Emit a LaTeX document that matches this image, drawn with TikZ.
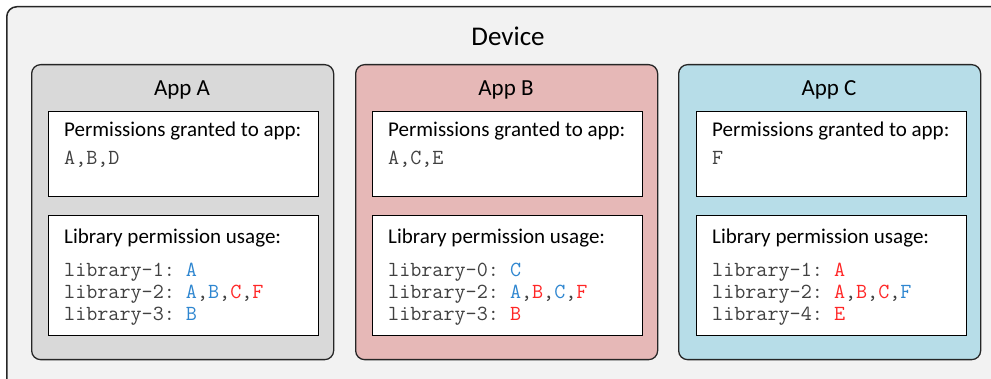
\documentclass[tikz,border=0pt]{standalone}
\usepackage{fontspec}
\setmainfont{Carlito}
\usepackage{xcolor}
\usetikzlibrary{positioning}
\frenchspacing

\definecolor{devicegray}{RGB}{242,242,242}
\definecolor{appagray}{RGB}{217,217,217}
\definecolor{appbred}{RGB}{230,184,183}
\definecolor{appcblue}{RGB}{183,221,232}
\definecolor{permblue}{RGB}{46,134,208}
\definecolor{permred}{RGB}{255,38,38}
\definecolor{codegray}{RGB}{64,64,64}

\newcommand{\okperm}[1]{\textcolor{permblue}{#1}}
\newcommand{\badperm}[1]{\textcolor{permred}{#1}}

\begin{document}
\begin{tikzpicture}[
    x=1pt, y=-1pt,
    device_box/.style={rectangle, draw=black!85, fill=devicegray, rounded corners=10pt, line width=1.5pt, anchor=north west, minimum width=1010pt, minimum height=400pt, inner sep=0pt},
    app_box/.style={rectangle, draw=black!85, rounded corners=9pt, line width=1.3pt, anchor=north west, minimum width=302pt, minimum height=295pt, inner sep=0pt},
    granted_box/.style={rectangle, draw=black, fill=white, line width=1.3pt, anchor=north west, minimum width=270pt, minimum height=85pt, inner sep=0pt},
    usage_box/.style={rectangle, draw=black, fill=white, line width=1.3pt, anchor=north west, minimum width=270pt, minimum height=120pt, inner sep=0pt},
    device_title/.style={anchor=base, inner sep=0pt, font=\fontsize{27}{32}\selectfont},
    app_title/.style={anchor=base, inner sep=0pt, font=\fontsize{23}{27}\selectfont},
    label_text/.style={anchor=base west, inner sep=0pt, font=\fontsize{21}{25}\selectfont},
    code_text/.style={anchor=base west, inner sep=0pt, text=codegray, font=\ttfamily\fontsize{21.5}{22}\selectfont}
]
\useasboundingbox (0,0) rectangle (991,379);

% Device
\node[device_box] (device) at (6,6) {};
\node[device_title] (device_lbl) at (508,46) {Device};

% App A
\node[app_box, fill=appagray] (appA) at (31,64) {};
\node[app_title] (appA_lbl) at (182,96) {App A};
\node[granted_box] (grantA) at (48,111) {};
\node[label_text] (grantA_lbl) at (64,137) {Permissions granted to app:};
\node[code_text] (grantA_list) at (64,165) {A,B,D};
\node[usage_box] (usageA) at (48,215) {};
\node[label_text] (usageA_lbl) at (64,244) {Library permission usage:};
\node[code_text] (libA1) at (64,277) {library-1: \okperm{A}};
\node[code_text] (libA2) at (64,299) {library-2: \okperm{A},\okperm{B},\badperm{C},\badperm{F}};
\node[code_text] (libA3) at (64,321) {library-3: \okperm{B}};

% App B
\node[app_box, fill=appbred] (appB) at (355,64) {};
\node[app_title] (appB_lbl) at (506,96) {App B};
\node[granted_box] (grantB) at (372,111) {};
\node[label_text] (grantB_lbl) at (388,137) {Permissions granted to app:};
\node[code_text] (grantB_list) at (388,165) {A,C,E};
\node[usage_box] (usageB) at (372,215) {};
\node[label_text] (usageB_lbl) at (388,244) {Library permission usage:};
\node[code_text] (libB0) at (388,277) {library-0: \okperm{C}};
\node[code_text] (libB2) at (388,299) {library-2: \okperm{A},\badperm{B},\okperm{C},\badperm{F}};
\node[code_text] (libB3) at (388,321) {library-3: \badperm{B}};

% App C
\node[app_box, fill=appcblue] (appC) at (678,64) {};
\node[app_title] (appC_lbl) at (829,96) {App C};
\node[granted_box] (grantC) at (696,111) {};
\node[label_text] (grantC_lbl) at (712,137) {Permissions granted to app:};
\node[code_text] (grantC_list) at (712,165) {F};
\node[usage_box] (usageC) at (696,215) {};
\node[label_text] (usageC_lbl) at (712,244) {Library permission usage:};
\node[code_text] (libC1) at (712,277) {library-1: \badperm{A}};
\node[code_text] (libC2) at (712,299) {library-2: \badperm{A},\badperm{B},\badperm{C},\okperm{F}};
\node[code_text] (libC4) at (712,321) {library-4: \badperm{E}};

\end{tikzpicture}
\end{document}
